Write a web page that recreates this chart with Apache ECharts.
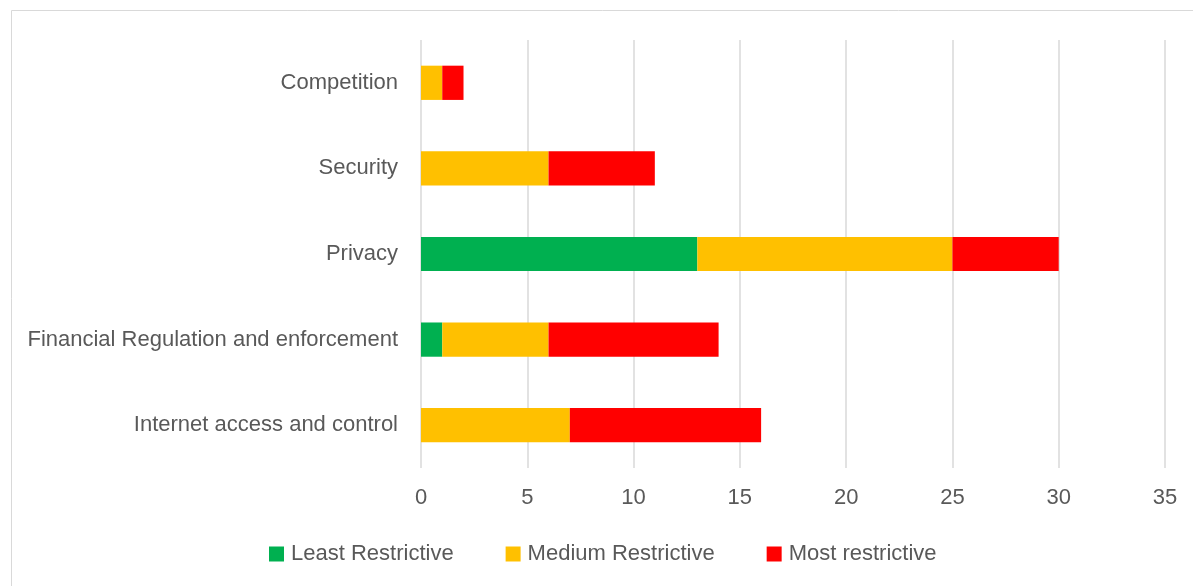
<!doctype html>
<html>
    <head>
        <meta charset="utf-8">
        <title>Restrictiveness by domain</title>
        <style>
            html, body { margin: 0; padding: 0; background: #fff; }
            #main { width: 1193px; height: 586px; }
        </style>
    </head>
    <body>
        <div id="main"></div>
        <script src="https://cdn.jsdelivr.net/npm/echarts@6/dist/echarts.min.js"></script>
        <script>
            var categories = ['Internet access and control', 'Financial Regulation and enforcement', 'Privacy', 'Security', 'Competition'];
            var leastRestrictive = [0, 1, 13, 0, 0];
            var mediumRestrictive = [7, 5, 12, 6, 1];
            var mostRestrictive = [9, 8, 5, 5, 1];

            var chart = echarts.init(document.getElementById('main'));
            var font = 'Liberation Sans';

            function bar(name, data, color) {
                return {
                    name: name,
                    type: 'bar',
                    stack: 'total',
                    barCategoryGap: '60%',
                    itemStyle: { color: color },
                    data: data
                };
            }

            chart.setOption({
                animation: false,
                graphic: [{
                    type: 'rect',
                    shape: { x: 11.5, y: 10.5, width: 1200, height: 600 },
                    style: { fill: 'none', stroke: '#d9d9d9', lineWidth: 1 }
                }],
                grid: { left: 421, right: 28, top: 40, bottom: 118 },
                legend: {
                    bottom: 16,
                    left: 264,
                    itemWidth: 15,
                    itemHeight: 15,
                    itemGap: 52,
                    icon: 'rect',
                    textStyle: { fontFamily: font, fontSize: 22, color: '#595959', padding: [0, 0, 0, 2] },
                    data: ['Least Restrictive', 'Medium Restrictive', 'Most restrictive']
                },
                xAxis: {
                    type: 'value',
                    min: 0,
                    max: 35,
                    interval: 5,
                    axisLine: { show: false },
                    axisTick: { show: false },
                    axisLabel: { fontFamily: font, fontSize: 22, color: '#595959', margin: 19 },
                    splitLine: { lineStyle: { color: '#d9d9d9', width: 1.5 } }
                },
                yAxis: {
                    type: 'category',
                    data: categories,
                    axisLine: { show: false },
                    axisTick: { show: false },
                    axisLabel: { fontFamily: font, fontSize: 22, color: '#595959', margin: 23 }
                },
                series: [
                    bar('Least Restrictive', leastRestrictive, '#00b050'),
                    bar('Medium Restrictive', mediumRestrictive, '#ffc000'),
                    bar('Most restrictive', mostRestrictive, '#ff0000')
                ]
            });

            window.onresize = chart.resize;
        </script>
    </body>
</html>
